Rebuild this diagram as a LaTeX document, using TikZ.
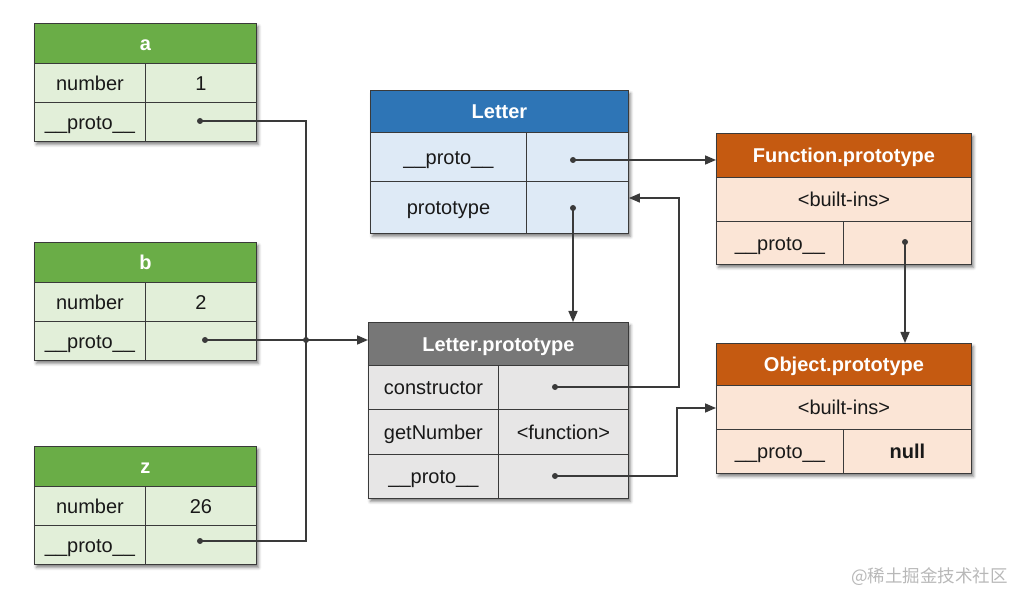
\documentclass[tikz,border=0pt]{standalone}
\usepackage{fontspec}
\setmainfont{Liberation Sans}
\newfontfamily\cjk{Noto Sans CJK SC}
\usetikzlibrary{arrows.meta,shadows,shadows.blur,calc}
\definecolor{greenH}{HTML}{6AAD47}
\definecolor{greenB}{HTML}{E2EFD9}
\definecolor{blueH}{HTML}{2E75B6}
\definecolor{blueB}{HTML}{DEEAF6}
\definecolor{grayH}{HTML}{777777}
\definecolor{grayB}{HTML}{E7E6E6}
\definecolor{orangeH}{HTML}{C55A11}
\definecolor{orangeB}{HTML}{FBE5D6}
\definecolor{edgeC}{HTML}{3A3A3A}
\tikzset{
  frame/.style={draw=edgeC, line width=0.9pt, fill=white, anchor=north west, inner sep=0pt,
    blur shadow={shadow xshift=2pt, shadow yshift=-3pt, shadow blur radius=3pt, shadow opacity=50}},
  cell/.style={draw=edgeC, line width=0.9pt, anchor=north west, inner sep=0pt,
    font=\fontsize{20}{23}\selectfont, text=black!90, text height=16pt, text depth=1pt},
  hdr/.style={cell, text=white, font=\fontsize{20}{23}\selectfont\bfseries},
  conn/.style={draw=edgeC, line width=1.6pt},
  arr/.style={conn, -{Triangle[length=11pt,width=9pt]}},
  dot/.style={fill=edgeC}
}
\begin{document}
\begin{tikzpicture}[x=1pt,y=-1pt]
\useasboundingbox (0,0) rectangle (1014,593);
% ---------- a ----------
\node[frame, minimum width=222pt, minimum height=118pt] (aF) at (34,23) {};
\node[hdr, fill=greenH, minimum width=222pt, minimum height=40pt] (aH) at (34,23) {a};
\node[cell, fill=greenB, minimum width=111pt, minimum height=39pt] (aK1) at (34,63) {number};
\node[cell, fill=greenB, minimum width=111pt, minimum height=39pt] (aV1) at (145,63) {1};
\node[cell, fill=greenB, minimum width=111pt, minimum height=39pt] (aK2) at (34,102) {\_\_proto\_\_};
\node[cell, fill=greenB, minimum width=111pt, minimum height=39pt] (aV2) at (145,102) {};
% ---------- b ----------
\node[frame, minimum width=222pt, minimum height=118pt] (bF) at (34,242) {};
\node[hdr, fill=greenH, minimum width=222pt, minimum height=40pt] (bH) at (34,242) {b};
\node[cell, fill=greenB, minimum width=111pt, minimum height=39pt] (bK1) at (34,282) {number};
\node[cell, fill=greenB, minimum width=111pt, minimum height=39pt] (bV1) at (145,282) {2};
\node[cell, fill=greenB, minimum width=111pt, minimum height=39pt] (bK2) at (34,321) {\_\_proto\_\_};
\node[cell, fill=greenB, minimum width=111pt, minimum height=39pt] (bV2) at (145,321) {};
% ---------- z ----------
\node[frame, minimum width=222pt, minimum height=118pt] (zF) at (34,446) {};
\node[hdr, fill=greenH, minimum width=222pt, minimum height=40pt] (zH) at (34,446) {z};
\node[cell, fill=greenB, minimum width=111pt, minimum height=39pt] (zK1) at (34,486) {number};
\node[cell, fill=greenB, minimum width=111pt, minimum height=39pt] (zV1) at (145,486) {26};
\node[cell, fill=greenB, minimum width=111pt, minimum height=39pt] (zK2) at (34,525) {\_\_proto\_\_};
\node[cell, fill=greenB, minimum width=111pt, minimum height=39pt] (zV2) at (145,525) {};
% ---------- Letter ----------
\node[frame, minimum width=258pt, minimum height=143pt] (LF) at (370,90) {};
\node[hdr, fill=blueH, minimum width=258pt, minimum height=42pt] (LH) at (370,90) {Letter};
\node[cell, fill=blueB, minimum width=156pt, minimum height=49pt] (LK1) at (370,132) {\_\_proto\_\_};
\node[cell, fill=blueB, minimum width=102pt, minimum height=49pt] (LV1) at (526,132) {};
\node[cell, fill=blueB, minimum width=156pt, minimum height=52pt] (LK2) at (370,181) {prototype};
\node[cell, fill=blueB, minimum width=102pt, minimum height=52pt] (LV2) at (526,181) {};
% ---------- Letter.prototype ----------
\node[frame, minimum width=260pt, minimum height=176pt] (PF) at (368,322) {};
\node[hdr, fill=grayH, minimum width=260pt, minimum height=43pt] (PH) at (368,322) {Letter.prototype};
\node[cell, fill=grayB, minimum width=130pt, minimum height=44pt] (PK1) at (368,365) {constructor};
\node[cell, fill=grayB, minimum width=130pt, minimum height=44pt] (PV1) at (498,365) {};
\node[cell, fill=grayB, minimum width=130pt, minimum height=45pt] (PK2) at (368,409) {getNumber};
\node[cell, fill=grayB, minimum width=130pt, minimum height=45pt] (PV2) at (498,409) {<function>};
\node[cell, fill=grayB, minimum width=130pt, minimum height=44pt] (PK3) at (368,454) {\_\_proto\_\_};
\node[cell, fill=grayB, minimum width=130pt, minimum height=44pt] (PV3) at (498,454) {};
% ---------- Function.prototype ----------
\node[frame, minimum width=255pt, minimum height=131pt] (FF) at (716,133) {};
\node[hdr, fill=orangeH, minimum width=255pt, minimum height=44pt] (FH) at (716,133) {Function.prototype};
\node[cell, fill=orangeB, minimum width=255pt, minimum height=44pt] (FB) at (716,177) {<built-ins>};
\node[cell, fill=orangeB, minimum width=127pt, minimum height=43pt] (FK) at (716,221) {\_\_proto\_\_};
\node[cell, fill=orangeB, minimum width=128pt, minimum height=43pt] (FV) at (843,221) {};
% ---------- Object.prototype ----------
\node[frame, minimum width=255pt, minimum height=130pt] (OF) at (716,343) {};
\node[hdr, fill=orangeH, minimum width=255pt, minimum height=42pt] (OH) at (716,343) {Object.prototype};
\node[cell, fill=orangeB, minimum width=255pt, minimum height=44pt] (OB) at (716,385) {<built-ins>};
\node[cell, fill=orangeB, minimum width=127pt, minimum height=44pt] (OK) at (716,429) {\_\_proto\_\_};
\node[cell, fill=orangeB, minimum width=128pt, minimum height=44pt, font=\fontsize{20}{23}\selectfont\bfseries] (OV) at (843,429) {null};
% ---------- points ----------
\coordinate (aD) at (200,121);
\coordinate (bD) at (205,340);
\coordinate (zD) at (200,541);
\coordinate (J) at (306,340);
\coordinate (L1D) at (573,160);
\coordinate (L2D) at (573,208);
\coordinate (P1D) at (555,387);
\coordinate (P3D) at (555,476);
\coordinate (FD) at (905,242);
\coordinate (c1) at (679,198);
\coordinate (c2) at (677,408);
% ---------- connectors ----------
\draw[conn] (aD) -| (J);
\draw[conn] (zD) -| (J);
\draw[conn] (bD) -- (J);
\draw[arr] (J) -- (PH.west |- J);
\draw[arr] (L1D) -- (FH.west |- L1D);
\draw[arr] (L2D) -- (L2D |- PH.north);
\draw[arr] (P1D) -| (c1) -- (LV2.east |- c1);
\draw[arr] (P3D) -| (c2) -- (OB.west |- c2);
\draw[arr] (FD) -- (FD |- OH.north);
\foreach \p in {aD,bD,zD,J,L1D,L2D,P1D,P3D,FD} \fill[dot] (\p) circle (3pt);
% ---------- watermark ----------
\node[anchor=east, inner sep=0pt, text=black!28, font=\cjk\fontsize{17.5}{20}\selectfont] (wm) at (1008,577) {@稀土掘金技术社区};
\end{tikzpicture}
\end{document}
